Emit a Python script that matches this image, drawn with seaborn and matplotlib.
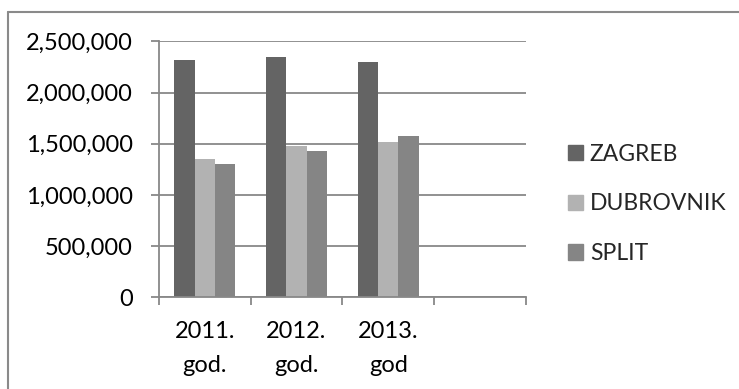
import matplotlib
matplotlib.use("Agg")
import matplotlib.pyplot as plt
from matplotlib.lines import Line2D
import seaborn as sns
import pandas as pd
from matplotlib.ticker import FuncFormatter

categories = ["2011.\ngod.", "2012.\ngod.", "2013.\ngod", " "]
series = ["ZAGREB", "DUBROVNIK", "SPLIT"]
zagreb = [2317000, 2344000, 2301000]
dubrovnik = [1347000, 1481000, 1520000]
split = [1302000, 1426000, 1578000]
yticks = [0, 500000, 1000000, 1500000, 2000000, 2500000]
colors = ["#646464", "#b2b2b2", "#858585"]

rows = []
for name, vals in zip(series, [zagreb, dubrovnik, split]):
    for cat, v in zip(categories[:3], vals):
        rows.append({"year": cat, "value": v, "city": name})
df = pd.DataFrame(rows)

sns.set_style("white")
plt.rcParams["font.family"] = ["Lato", "DejaVu Sans"]

fig = plt.figure(figsize=(7.39, 3.89), dpi=100)
ax = fig.add_axes([159/739, 1-297.3/389, (525.7-159)/739, (297.3-41.3)/389])

sns.barplot(data=df, x="year", y="value", hue="city", order=categories,
            hue_order=series, palette=colors, width=0.665, linewidth=0,
            ax=ax, legend=True)

grid_c = "#888888"
ax.set_ylim(0, 2500000)
ax.set_xlim(-0.5, 3.5)
ax.set_yticks(yticks)
ax.yaxis.set_major_formatter(FuncFormatter(lambda v, p: f"{int(v):,}"))
ax.set_xlabel("")
ax.set_ylabel("")
ax.yaxis.grid(True, color=grid_c, linewidth=1.3)
ax.set_axisbelow(True)
for s in ["top", "right"]:
    ax.spines[s].set_visible(False)
for s in ["left", "bottom"]:
    ax.spines[s].set_color(grid_c)
    ax.spines[s].set_linewidth(1.3)

ax.tick_params(axis="y", which="major", length=6, width=1.3, color=grid_c,
               direction="out", labelsize=17, pad=13, labelcolor="black", left=True)
ax.set_xticks([-0.5, 0.5, 1.5, 2.5, 3.5], minor=True)
ax.tick_params(axis="x", which="minor", length=6, width=1.3, color=grid_c,
               direction="out", bottom=True)
ax.tick_params(axis="x", which="major", length=0, labelsize=17, pad=17,
               labelcolor="black")
for lbl in ax.get_xticklabels():
    lbl.set_linespacing(1.75)

ax.get_legend().remove()
handles = [plt.Rectangle((0, 0), 1, 1, color=c) for c in colors]
fig.legend(handles, series, loc="center left",
           bbox_to_anchor=(568/739, 1-204/389), frameon=False,
           fontsize=16.5, handlelength=0.65, handleheight=0.65,
           handletextpad=0.3, labelspacing=1.25, borderpad=0,
           borderaxespad=0)

fig.add_artist(Line2D([8/739, 1], [1-12/389, 1-12/389], color="#8a8a8a",
                      linewidth=1.5, transform=fig.transFigure))
fig.add_artist(Line2D([8/739, 8/739], [0, 1-12/389], color="#8a8a8a",
                      linewidth=1.5, transform=fig.transFigure))

fig.savefig("out.png", dpi=100)
